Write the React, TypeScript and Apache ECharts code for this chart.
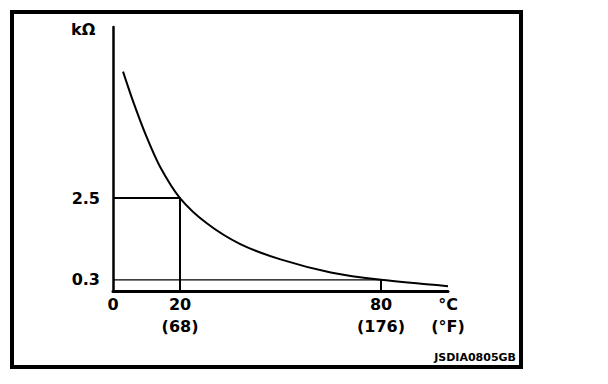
import React, { useEffect, useRef } from "react";
import * as echarts from "echarts";

// Curve: resistance (kΩ) vs temperature (°C)
const temps = [3, 6, 10, 14, 20, 28, 38, 50, 65, 80, 100];
const resist = [5.9, 5.1, 4.15, 3.35, 2.5, 1.82, 1.26, 0.85, 0.5, 0.3, 0.13];

// Reference points
const refTemps = [20, 80];
const refResist = [2.5, 0.3];

// Tick labels
const xTickValues = [0, 20, 80, 100];
const xTickTop = ["0", "20", "80", "°C"];
const xTickBottom = ["", "(68)", "(176)", "(°F)"];
const yTickValues = [0.3, 2.5];
const yTickLabels = ["0.3", "2.5"];

const FONT = "DejaVu Sans";

export default function App() {
  const ref = useRef<HTMLDivElement>(null);
  useEffect(() => {
    if (!ref.current) return;
    const chart = echarts.init(ref.current, null, { renderer: "svg" });
    const curve = temps.map((t, i) => [t, resist[i]]);
    const guide1 = [
      [0, refResist[0]],
      [refTemps[0], refResist[0]],
      [refTemps[0], 0],
    ];
    const guide2h = [
      [0, refResist[1]],
      [refTemps[1], refResist[1]],
    ];
    const guide2v = [
      [refTemps[1], refResist[1]],
      [refTemps[1], 0],
    ];
    chart.setOption({
      animation: false,
      backgroundColor: "#ffffff",
      grid: { left: 113, right: 160, top: 27, bottom: 93 },
      xAxis: {
        type: "value",
        min: 0,
        max: 100,
        axisLine: { show: true, lineStyle: { color: "#000", width: 3 } },
        axisTick: { show: false },
        splitLine: { show: false },
        axisLabel: {
          customValues: xTickValues,
          color: "#000",
          fontFamily: FONT,
          fontWeight: "bold",
          fontSize: 16,
          lineHeight: 22,
          margin: 2,
          formatter: (v: number) => {
            const i = xTickValues.findIndex((x) => Math.abs(x - v) < 1e-6);
            if (i < 0) return "";
            return xTickBottom[i] ? xTickTop[i] + "\n" + xTickBottom[i] : xTickTop[i];
          },
        },
      },
      yAxis: {
        type: "value",
        min: 0,
        max: 7.1,
        axisLine: { show: true, lineStyle: { color: "#000", width: 2.5 } },
        axisTick: { show: false },
        splitLine: { show: false },
        axisLabel: {
          customValues: yTickValues,
          color: "#000",
          fontFamily: FONT,
          fontWeight: "bold",
          fontSize: 16,
          margin: 13,
          formatter: (v: number) => {
            const i = yTickValues.findIndex((x) => Math.abs(x - v) < 1e-6);
            return i < 0 ? "" : yTickLabels[i];
          },
        },
      },
      graphic: [
        {
          type: "rect",
          shape: { x: 12, y: 12, width: 509, height: 355 },
          style: { fill: "none", stroke: "#000", lineWidth: 4 },
          silent: true,
        },
        {
          type: "text",
          x: 71,
          y: 21,
          style: { text: "kΩ", fill: "#000", font: `bold 16px '${FONT}'` },
        },
        {
          type: "text",
          x: 516,
          y: 352,
          style: { text: "JSDIA0805GB", fill: "#000", font: `bold 11px '${FONT}'`, align: "right" },
        },
      ],
      series: [
        {
          type: "line",
          data: curve,
          smooth: 0.3,
          showSymbol: false,
          lineStyle: { color: "#000", width: 2 },
        },
        {
          type: "line",
          data: guide1,
          showSymbol: false,
          lineStyle: { color: "#000", width: 2 },
        },
        {
          type: "line",
          data: guide2h,
          showSymbol: false,
          lineStyle: { color: "#000", width: 1.2 },
        },
        {
          type: "line",
          data: guide2v,
          showSymbol: false,
          lineStyle: { color: "#000", width: 2 },
        },
      ],
    });
    return () => chart.dispose();
  }, []);
  return (
    <div
      ref={ref}
      style={{ position: "fixed", left: 0, top: 0, width: 608, height: 384, background: "#fff" }}
    />
  );
}
